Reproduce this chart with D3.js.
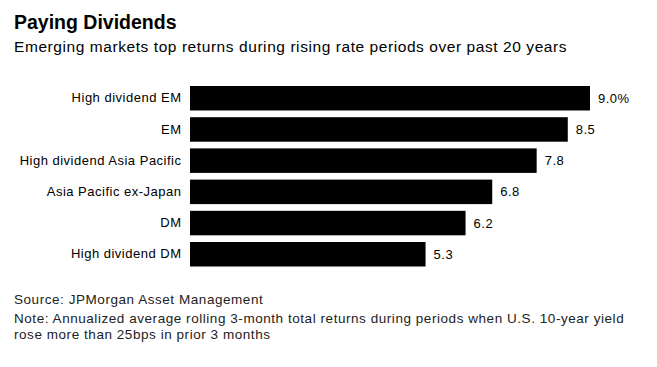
<!DOCTYPE html>
<html>
<head>
<meta charset="utf-8">
<script src="https://cdn.jsdelivr.net/npm/d3@7"></script>
<style>
  body { margin: 0; background: #fff; }
  svg { font-family: "Liberation Sans", Arial, sans-serif; }
</style>
</head>
<body>
<div id="chart"></div>
<script>
const width = 657;
const height = 367;

// data
const categories = [
  "High dividend EM",
  "EM",
  "High dividend Asia Pacific",
  "Asia Pacific ex-Japan",
  "DM",
  "High dividend DM"
];
const returns = [9.0, 8.5, 7.8, 6.8, 6.2, 5.3];
const valueLabels = ["9.0%", "8.5", "7.8", "6.8", "6.2", "5.3"];

const data = categories.map((c, i) => ({ name: c, value: returns[i], label: valueLabels[i] }));

const svg = d3.select("#chart")
  .append("svg")
  .attr("width", width)
  .attr("height", height);

svg.append("rect")
  .attr("width", width)
  .attr("height", height)
  .style("fill", "#fff");

// scales
const x_scale = d3.scaleLinear().domain([0, 9]).range([190, 590]);
const y_scale = d3.scaleBand()
  .domain(categories)
  .range([82.65, 269.85])
  .paddingInner(0.215)
  .paddingOuter(0.1075);

// title + subtitle
svg.append("text")
  .attr("x", 14)
  .attr("y", 29)
  .style("font-size", "19.5px")
  .style("font-weight", "bold")
  .style("fill", "#000")
  .text("Paying Dividends");

svg.append("text")
  .attr("x", 14)
  .attr("y", 52)
  .style("font-size", "15.5px")
  .style("letter-spacing", "0.57px")
  .style("fill", "#000")
  .text("Emerging markets top returns during rising rate periods over past 20 years");

// category axis (no line, no ticks)
const y_axis = d3.axisLeft(y_scale).tickSize(0).tickPadding(8.5);
const yGroup = svg.append("g")
  .attr("transform", "translate(" + x_scale(0) + ",0)")
  .call(y_axis);
yGroup.select(".domain").remove();
yGroup.selectAll("text")
  .style("font-family", "'Liberation Sans', Arial, sans-serif")
  .style("font-size", "13px")
  .style("letter-spacing", "0.5px")
  .style("fill", "#000");

// bars
svg.selectAll(".bar")
  .data(data)
  .enter()
  .append("rect")
  .attr("class", "bar")
  .attr("x", x_scale(0))
  .attr("y", d => y_scale(d.name))
  .attr("width", d => x_scale(d.value) - x_scale(0))
  .attr("height", y_scale.bandwidth())
  .style("fill", "#000");

// value labels
svg.selectAll(".val")
  .data(data)
  .enter()
  .append("text")
  .attr("class", "val")
  .attr("x", d => x_scale(d.value) + 8)
  .attr("y", d => y_scale(d.name) + y_scale.bandwidth() / 2)
  .attr("dy", "0.35em")
  .style("font-size", "13px")
  .style("letter-spacing", "0.5px")
  .style("fill", "#000")
  .text(d => d.label);

// footnotes
const notes = [
  "Source: JPMorgan Asset Management",
  "Note: Annualized average rolling 3-month total returns during periods when U.S. 10-year yield",
  "rose more than 25bps in prior 3 months"
];
const noteY = [304, 323, 339];

svg.selectAll(".note")
  .data(notes)
  .enter()
  .append("text")
  .attr("class", "note")
  .attr("x", 14)
  .attr("y", (d, i) => noteY[i])
  .style("font-size", "13.5px")
  .style("letter-spacing", "0.55px")
  .style("fill", "#222")
  .text(d => d);
</script>
</body>
</html>
